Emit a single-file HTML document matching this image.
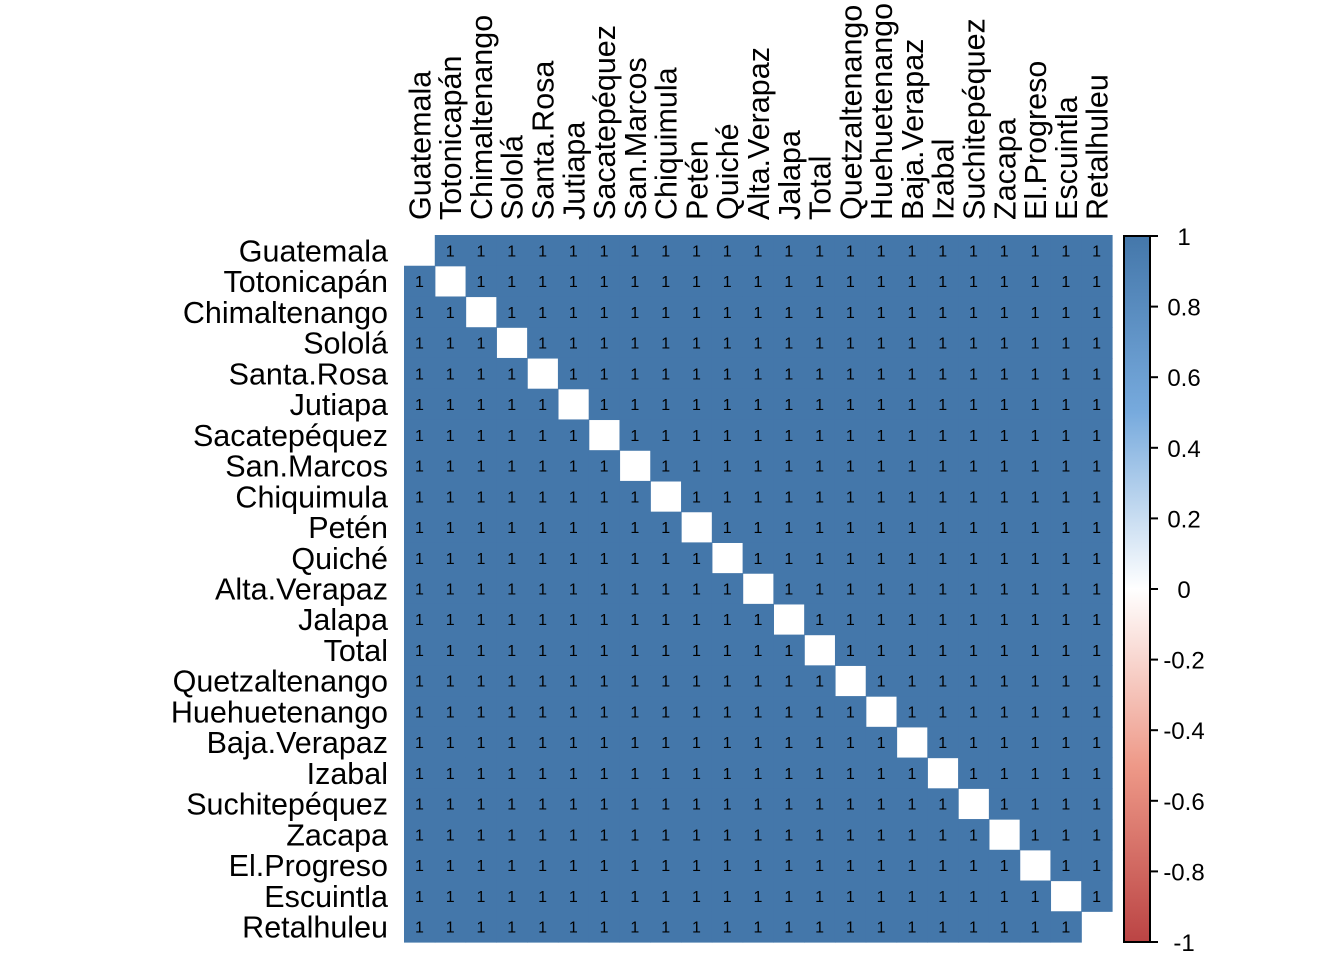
<!DOCTYPE html>
<html><head><meta charset="utf-8"><style>body{margin:0;background:#fff}svg{display:block;font-family:"Liberation Sans",sans-serif}</style></head>
<body>
<svg id="c" width="1344" height="960">
<defs><linearGradient id="g" x1="0" y1="1" x2="0" y2="0">
<stop offset="0" stop-color="#BB4444"/><stop offset="0.25" stop-color="#EE9988"/><stop offset="0.5" stop-color="#FFFFFF"/><stop offset="0.75" stop-color="#77AADD"/><stop offset="1" stop-color="#4477AA"/></linearGradient></defs>
</svg>
<script>
const vars=["Guatemala","Totonicapán","Chimaltenango","Sololá","Santa.Rosa","Jutiapa","Sacatepéquez","San.Marcos","Chiquimula","Petén","Quiché","Alta.Verapaz","Jalapa","Total","Quetzaltenango","Huehuetenango","Baja.Verapaz","Izabal","Suchitepéquez","Zacapa","El.Progreso","Escuintla","Retalhuleu"];
const corrValue=1;
const legendTicks=[1,0.8,0.6,0.4,0.2,0,-0.2,-0.4,-0.6,-0.8,-1];
const NS="http://www.w3.org/2000/svg",svg=document.getElementById('c');
const x0=404,y0=235,W=708,H=707,n=vars.length,cw=W/n,ch=H/n;
function mk(t,a,p){const e=document.createElementNS(NS,t);for(const k in a)e.setAttribute(k,a[k]);(p||svg).appendChild(e);return e;}
function color(v){return v>0.6?"#4477AA":"#fff";}
for(let i=0;i<n;i++){
  const yl=mk('text',{x:388,y:y0+ch*(i+0.5)+11,'text-anchor':'end','font-size':30.5});yl.textContent=vars[i];
  
  
  const cx=x0+cw*(i+0.5)+11;
  const xl=mk('text',{x:cx,y:220,'font-size':30.5,transform:`rotate(-90 ${cx} 220)`});xl.textContent=vars[i];
  
  
  for(let j=0;j<n;j++){
    if(i===j)continue;
    const r=mk('rect',{x:x0+cw*j,y:y0+ch*i,width:cw+0.6,height:ch+0.6,fill:color(corrValue)});
    
    
    const t=mk('text',{x:x0+cw*(j+0.5),y:y0+ch*(i+0.5)+6,'text-anchor':'middle','font-size':16});t.textContent=corrValue;
    
    
  }
}
const lb=mk('rect',{x:1124,y:236,width:26,height:706,fill:'url(#g)',stroke:'#000','stroke-width':2});


legendTicks.forEach(v=>{
  const y=236+(1-v)/2*706;
  mk('line',{x1:1150,x2:1158,y1:y,y2:y,stroke:'#000','stroke-width':2});
  const t=mk('text',{x:1184,y:y+9,'font-size':24,'text-anchor':'middle'});t.textContent=v;
  
  
});
</script>
</body></html>
